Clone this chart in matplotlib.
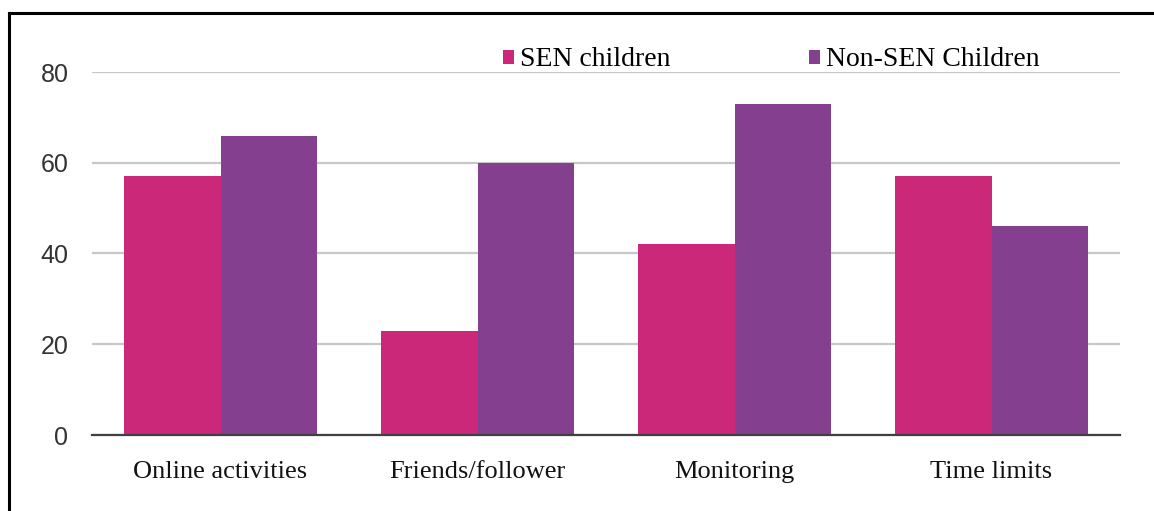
import matplotlib
matplotlib.use("Agg")
import matplotlib.pyplot as plt
from matplotlib.patches import Patch
from matplotlib.lines import Line2D
import numpy as np

categories = ["Online activities", "Friends/follower", "Monitoring", "Time limits"]
series_names = ["SEN children", "Non-SEN Children"]
sen_values = [57, 23, 42, 57]
nonsen_values = [66, 60, 73, 46]
yticks = [0, 20, 40, 60, 80]

colors = ["#CC2879", "#843F8E"]

W, H = 1154, 511
fig = plt.figure(figsize=(W / 100, H / 100), dpi=100)
ax = fig.add_axes([92 / W, 1 - 435 / H, (1120 - 92) / W, (435 - 72) / H])

x = np.arange(len(categories))
bw = 0.375
ax.bar(x - bw / 2, sen_values, bw, color=colors[0], zorder=3)
ax.bar(x + bw / 2, nonsen_values, bw, color=colors[1], zorder=3)

ax.set_xlim(-0.5, len(categories) - 0.5)
ax.set_ylim(0, 80)
ax.set_yticks(yticks)
ax.set_yticklabels([str(t) for t in yticks], family="Liberation Sans", fontsize=18, color="#333333")
ax.set_xticks(x)
ax.set_xticklabels(categories, family="Liberation Serif", fontsize=19, color="#111111")
ax.tick_params(axis="y", length=0, pad=17)
ax.tick_params(axis="x", length=0, pad=19)
ax.grid(axis="y", color="#C8C8C8", linewidth=1.6, zorder=0)
ax.set_axisbelow(True)
for s in ["top", "right", "left"]:
    ax.spines[s].set_visible(False)
ax.spines["bottom"].set_color("#404040")
ax.spines["bottom"].set_linewidth(1.6)
ax.spines["bottom"].set_zorder(4)

handles = [Patch(facecolor=c, edgecolor="none") for c in colors]
fig.legend(handles, series_names, loc="center left",
           bbox_to_anchor=(503 / W, 1 - 60 / H), ncol=2, frameon=False,
           prop={"family": "Liberation Serif", "size": 20},
           handlelength=0.4, handleheight=0.4, handletextpad=0.2,
           columnspacing=5.0, borderpad=0, borderaxespad=0)

# outer frame (top and left edges visible)
fig.add_artist(Line2D([9 / W, 1.0], [1 - 13 / H, 1 - 13 / H], color="black", linewidth=2.2))
fig.add_artist(Line2D([9 / W, 9 / W], [1 - 13 / H, 0.0], color="black", linewidth=2.2))

fig.savefig("out.png", dpi=100)
